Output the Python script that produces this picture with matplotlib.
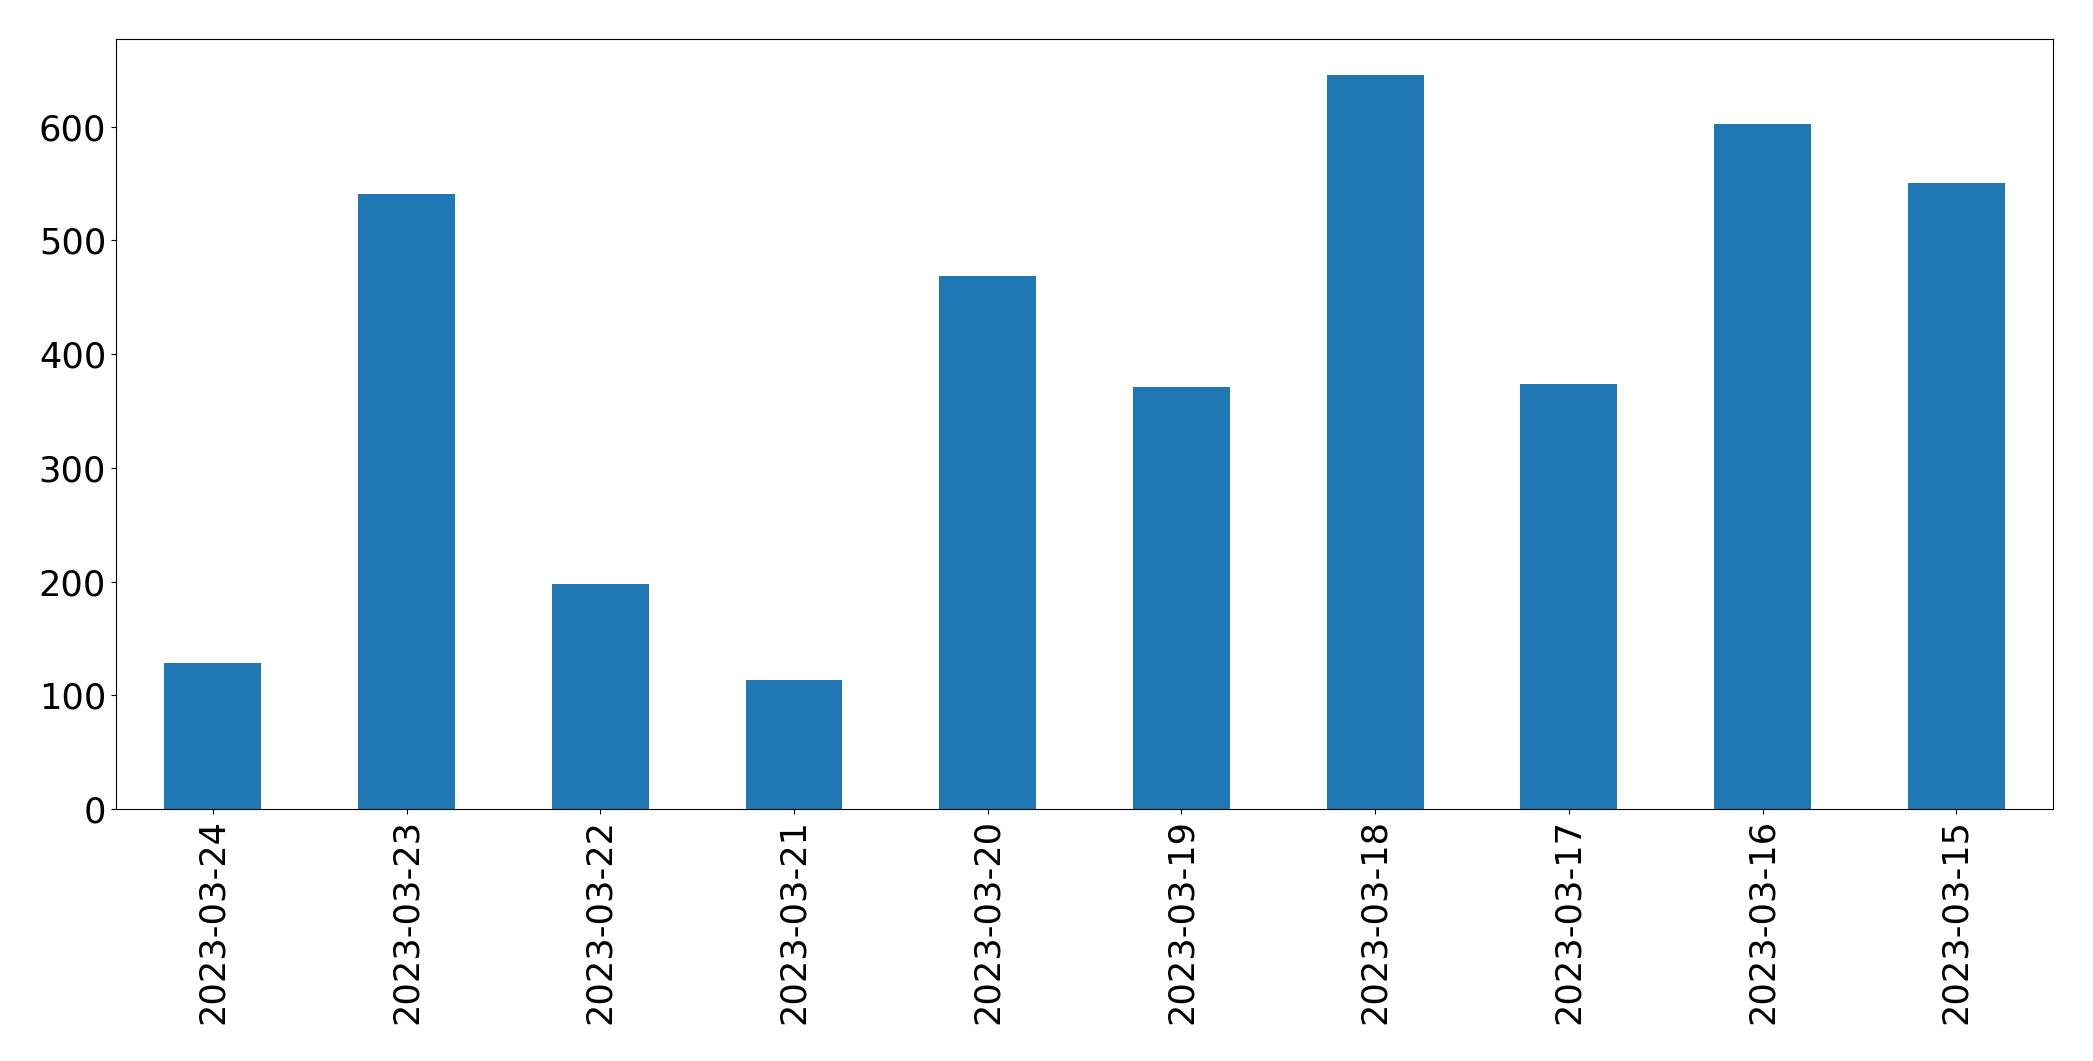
import matplotlib
matplotlib.use("Agg")
import matplotlib.pyplot as plt

dates = ["2023-03-24", "2023-03-23", "2023-03-22", "2023-03-21", "2023-03-20",
         "2023-03-19", "2023-03-18", "2023-03-17", "2023-03-16", "2023-03-15"]
values = [128, 541, 198, 113, 469, 371, 645, 374, 602, 550]

fig = plt.figure(figsize=(20.93, 10.61), dpi=100)
ax = fig.add_axes([0.0554, 0.2375, 0.9256, 0.726])
x = list(range(len(dates)))
ax.bar(x, values, width=0.5, color="#1f77b4")
ax.set_xlim(-0.5, len(dates) - 0.5)
ax.set_xticks(x)
ax.set_xticklabels(dates, rotation=90)
ax.tick_params(axis="both", labelsize=25.3)
fig.savefig("out.png", dpi=100)
